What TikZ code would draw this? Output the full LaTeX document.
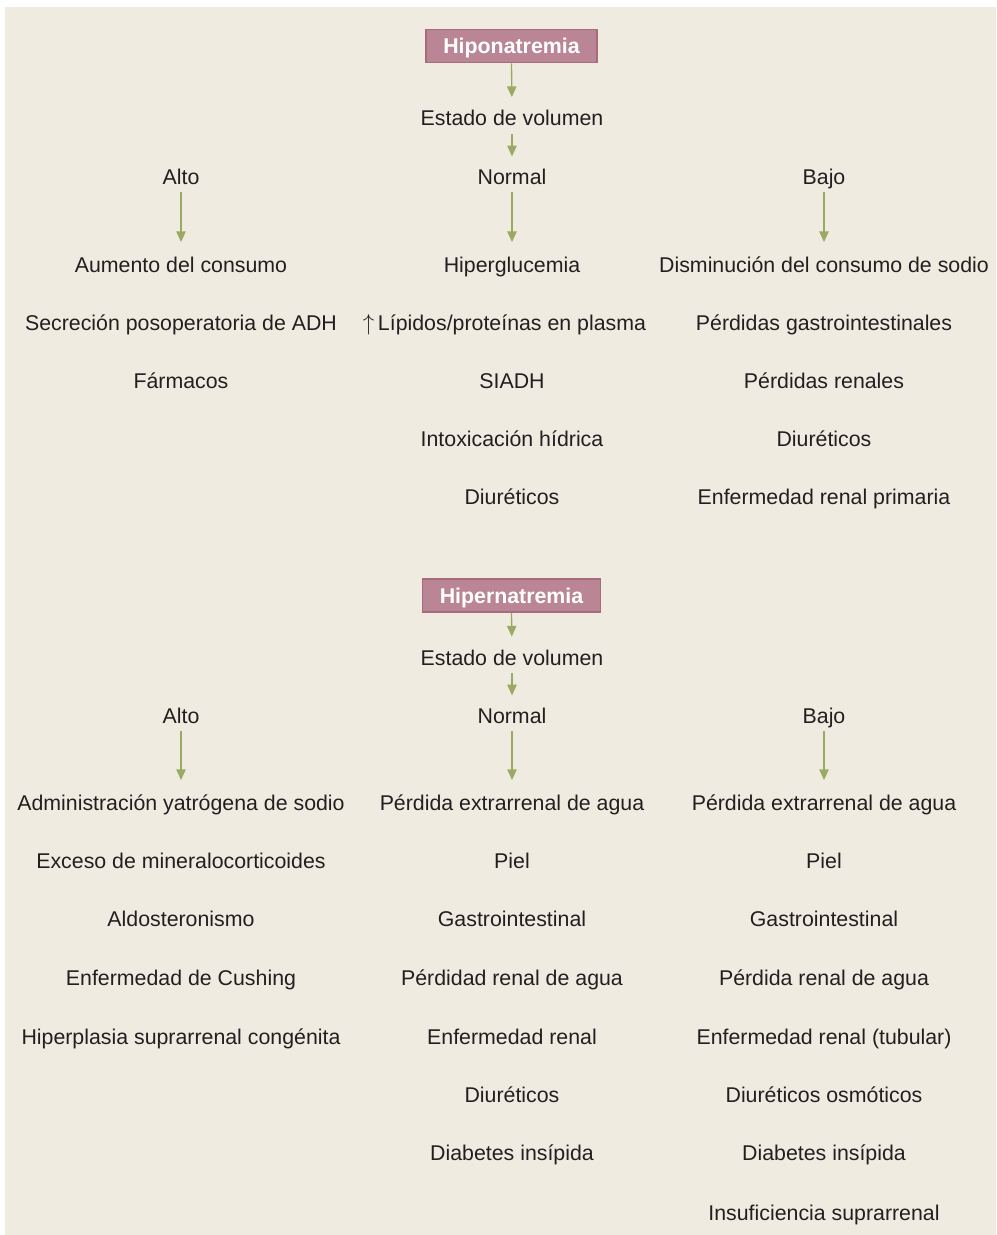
\documentclass[tikz,border=0pt]{standalone}
\usepackage{fontspec}
\setmainfont{Liberation Sans}
\usetikzlibrary{arrows.meta}
\definecolor{bgcol}{HTML}{EFEBE1}
\definecolor{txtcol}{HTML}{231F20}
\definecolor{boxfill}{HTML}{BA8696}
\definecolor{boxline}{HTML}{A86A7D}
\definecolor{arrowcol}{HTML}{9BAA63}
\begin{document}
\begin{tikzpicture}[x=0.75pt,y=-0.75pt,
  lbl/.style={inner sep=0pt, text height=11.5pt, text depth=0pt, text=txtcol,
    font=\fontsize{16}{19}\selectfont},
  head/.style={draw=boxline, line width=1.2pt, fill=boxfill, text=white,
    font=\fontsize{16}{19}\selectfont\bfseries, minimum height=24.75pt,
    inner xsep=13pt, inner ysep=0pt, text height=11.5pt, text depth=0pt},
  link/.style={draw=arrowcol, line width=1pt, -{Triangle[width=7pt,length=8pt]}},
  toest/.style={link, shorten >=9.75pt},
  tomid/.style={link, shorten <=6pt, shorten >=9.5pt},
  tolist/.style={link, shorten <=5.6pt, shorten >=11.25pt}
]
\useasboundingbox (0,0) rectangle (996,1235);
\fill[bgcol] (5,7) rectangle (996,1235);

% ---------- Hiponatremia ----------
\node[head] (hipo) at (511.5,46) {Hiponatremia};
\node[lbl] (est1) at (512,118) {Estado de volumen};
\node[lbl] (alto1) at (181,177) {Alto};
\node[lbl] (norm1) at (512,177) {Normal};
\node[lbl] (bajo1) at (824,177) {Bajo};

\node[lbl] (a1r1) at (181,265) {Aumento del consumo};
\node[lbl] (a1r2) at (181,323) {Secreción posoperatoria de ADH};
\node[lbl] (a1r3) at (181,381) {Fármacos};

\node[lbl] (n1r1) at (512,265) {Hiperglucemia};
\node[lbl] (n1r2) at (512,323) {\llap{$\uparrow$\,}Lípidos/proteínas en plasma};
\node[lbl] (n1r3) at (512,381) {SIADH};
\node[lbl] (n1r4) at (512,439) {Intoxicación hídrica};
\node[lbl] (n1r5) at (512,497) {Diuréticos};

\node[lbl] (b1r1) at (824,265) {Disminución del consumo de sodio};
\node[lbl] (b1r2) at (824,323) {Pérdidas gastrointestinales};
\node[lbl] (b1r3) at (824,381) {Pérdidas renales};
\node[lbl] (b1r4) at (824,439) {Diuréticos};
\node[lbl] (b1r5) at (824,497) {Enfermedad renal primaria};

\draw[toest] (hipo.south) -- (est1.north);
\draw[tomid] (est1.south) -- (norm1.north);
\draw[tolist] (alto1.south) -- (a1r1.north);
\draw[tolist] (norm1.south) -- (n1r1.north);
\draw[tolist] (bajo1.south) -- (b1r1.north);

% ---------- Hipernatremia ----------
\node[head] (hiper) at (511.5,595.5) {Hipernatremia};
\node[lbl] (est2) at (512,657.5) {Estado de volumen};
\node[lbl] (alto2) at (181,716) {Alto};
\node[lbl] (norm2) at (512,716) {Normal};
\node[lbl] (bajo2) at (824,716) {Bajo};

\node[lbl] (a2r1) at (181,803) {Administración yatrógena de sodio};
\node[lbl] (a2r2) at (181,861) {Exceso de mineralocorticoides};
\node[lbl] (a2r3) at (181,919) {Aldosteronismo};
\node[lbl] (a2r4) at (181,978) {Enfermedad de Cushing};
\node[lbl] (a2r5) at (181,1037) {Hiperplasia suprarrenal congénita};

\node[lbl] (n2r1) at (512,803) {Pérdida extrarrenal de agua};
\node[lbl] (n2r2) at (512,861) {Piel};
\node[lbl] (n2r3) at (512,919) {Gastrointestinal};
\node[lbl] (n2r4) at (512,978) {Pérdidad renal de agua};
\node[lbl] (n2r5) at (512,1037) {Enfermedad renal};
\node[lbl] (n2r6) at (512,1095) {Diuréticos};
\node[lbl] (n2r7) at (512,1153) {Diabetes insípida};

\node[lbl] (b2r1) at (824,803) {Pérdida extrarrenal de agua};
\node[lbl] (b2r2) at (824,861) {Piel};
\node[lbl] (b2r3) at (824,919) {Gastrointestinal};
\node[lbl] (b2r4) at (824,978) {Pérdida renal de agua};
\node[lbl] (b2r5) at (824,1037) {Enfermedad renal (tubular)};
\node[lbl] (b2r6) at (824,1095) {Diuréticos osmóticos};
\node[lbl] (b2r7) at (824,1153) {Diabetes insípida};
\node[lbl] (b2r8) at (824,1213) {Insuficiencia suprarrenal};

\draw[toest] (hiper.south) -- (est2.north);
\draw[tomid] (est2.south) -- (norm2.north);
\draw[tolist] (alto2.south) -- (a2r1.north);
\draw[tolist] (norm2.south) -- (n2r1.north);
\draw[tolist] (bajo2.south) -- (b2r1.north);
\end{tikzpicture}
\end{document}
